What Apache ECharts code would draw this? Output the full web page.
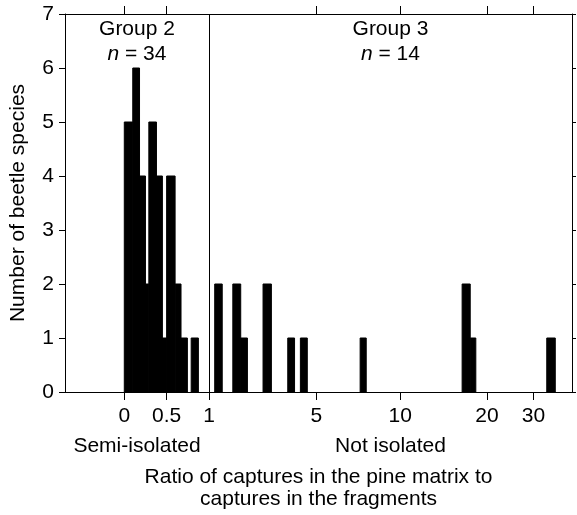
<!DOCTYPE html>
<html lang="en">
<head>
<meta charset="UTF-8">
<title>Beetle species: pine matrix vs fragments</title>
<script src="https://cdn.jsdelivr.net/npm/echarts@6/dist/echarts.min.js"></script>
<style>
  html, body { margin: 0; background: #fff; }
  #main { width: 577px; height: 515px; }
</style>
</head>
<body>
<div id="main"></div>
<script>
// histogram bins: [ratio from, ratio to, number of species]
const group2Bins = [
  [0.00, 0.10, 5], [0.10, 0.18, 6], [0.18, 0.25, 4], [0.25, 0.29, 2],
  [0.29, 0.38, 5], [0.38, 0.45, 4], [0.45, 0.50, 1], [0.50, 0.60, 4],
  [0.60, 0.67, 2], [0.67, 0.745, 1], [0.79, 0.875, 1]
];
const group3Bins = [
  [1.09, 1.22, 2], [1.43, 1.61, 2], [1.61, 1.78, 1], [2.25, 2.55, 2],
  [3.26, 3.61, 1], [3.94, 4.37, 1], [7.18, 7.55, 1], [16.4, 17.5, 2],
  [17.5, 18.3, 1], [33.7, 36.3, 1]
];
const xTickValues = [0, 0.5, 1, 5, 10, 20, 30];
const xTickLabels = ['0', '0.5', '1', '5', '10', '20', '30'];
const groupNames = ['Group 2', 'Group 3'];
const groupSizes = [34, 14];
const groupClasses = ['Semi-isolated', 'Not isolated'];

// broken x scale: linear up to 1, then log-ish between the printed ticks
const axisStops = [0, 0.5, 1, 2.267, 3.259, 4.282, 4.831];
function toAxis(r) {
  if (r <= 1) return r;
  for (let i = 3; i < xTickValues.length; i++) {
    if (r <= xTickValues[i] || i === xTickValues.length - 1) {
      const a = Math.log(xTickValues[i - 1]), b = Math.log(xTickValues[i]);
      return axisStops[i - 1] + (Math.log(r) - a) / (b - a) * (axisStops[i] - axisStops[i - 1]);
    }
  }
}
const xMin = -0.7, xMax = toAxis(42);
const tickPos = xTickValues.map(toAxis);

const font = { fontFamily: '"Liberation Sans", Arial, sans-serif', fontSize: 21, color: '#000' };
const black = { color: '#000', width: 1 };
const line = { show: true, onZero: false, lineStyle: black };

const barData = group2Bins.concat(group3Bins).map(b => [toAxis(b[0]), toAxis(b[1]), b[2]]);

const chart = echarts.init(document.getElementById('main'));
chart.setOption({
  animation: false,
  grid: { left: 63.5, right: 5, top: 14, bottom: 121 },
  xAxis: [
    {
      type: 'value', position: 'bottom', min: xMin, max: xMax,
      splitLine: { show: false },
      axisLine: line,
      axisTick: { customValues: tickPos, length: 8, lineStyle: black },
      axisLabel: {
        customValues: tickPos, margin: 14, ...font,
        formatter: v => xTickLabels[tickPos.findIndex(p => Math.abs(p - v) < 1e-6)]
      },
      name: 'Ratio of captures in the pine matrix to\ncaptures in the fragments',
      nameLocation: 'middle', nameGap: 74,
      nameTextStyle: { ...font, lineHeight: 22 }
    },
    {
      type: 'value', position: 'top', min: xMin, max: xMax,
      splitLine: { show: false },
      axisLine: line,
      axisTick: { customValues: tickPos.filter((p, i) => xTickValues[i] !== 1), length: 8, lineStyle: black },
      axisLabel: { show: false }
    }
  ],
  yAxis: [
    {
      type: 'value', min: 0, max: 7, interval: 1,
      splitLine: { show: false },
      axisLine: line,
      axisTick: { show: true, length: 6, lineStyle: black },
      axisLabel: { margin: 11, ...font },
      name: 'Number of beetle species', nameLocation: 'middle', nameGap: 36,
      nameTextStyle: font
    },
    {
      type: 'value', position: 'right', min: 0, max: 7, interval: 1,
      splitLine: { show: false },
      axisLine: line,
      axisTick: { show: true, length: 4, lineStyle: black },
      axisLabel: { show: false }
    }
  ],
  series: [{
    type: 'custom',
    data: barData,
    encode: { x: [0, 1], y: 2 },
    renderItem: (params, api) => {
      const top = api.coord([api.value(0), api.value(2)]);
      const base = api.coord([api.value(1), 0]);
      return {
        type: 'rect',
        shape: { x: top[0], y: top[1], width: base[0] - top[0], height: base[1] - top[1] },
        style: { fill: '#000', stroke: '#000', lineWidth: 1 }
      };
    },
    markLine: {
      silent: true, symbol: 'none', label: { show: false },
      lineStyle: { color: '#000', width: 1, type: 'solid' },
      data: [{ xAxis: toAxis(1) }]
    },
    markArea: {
      silent: true,
      itemStyle: { color: 'rgba(0,0,0,0)' },
      data: [
        [{ xAxis: xMin, label: { position: 'insideTop', distance: 3,
            formatter: '{a|' + groupNames[0] + '}\n{i|n}{a| = ' + groupSizes[0] + '}' } }, { xAxis: toAxis(1) }],
        [{ xAxis: toAxis(1), label: { position: 'insideTop', distance: 3,
            formatter: '{a|' + groupNames[1] + '}\n{i|n}{a| = ' + groupSizes[1] + '}' } }, { xAxis: xMax }],
        [{ xAxis: xMin, label: { position: 'bottom', distance: 44, formatter: groupClasses[0] } }, { xAxis: toAxis(1) }],
        [{ xAxis: toAxis(1), label: { position: 'bottom', distance: 44, formatter: groupClasses[1] } }, { xAxis: xMax }]
      ],
      label: {
        ...font,
        rich: {
          a: { ...font, lineHeight: 25 },
          i: { ...font, fontStyle: 'italic', lineHeight: 25 }
        }
      }
    }
  }]
});
</script>
</body>
</html>
